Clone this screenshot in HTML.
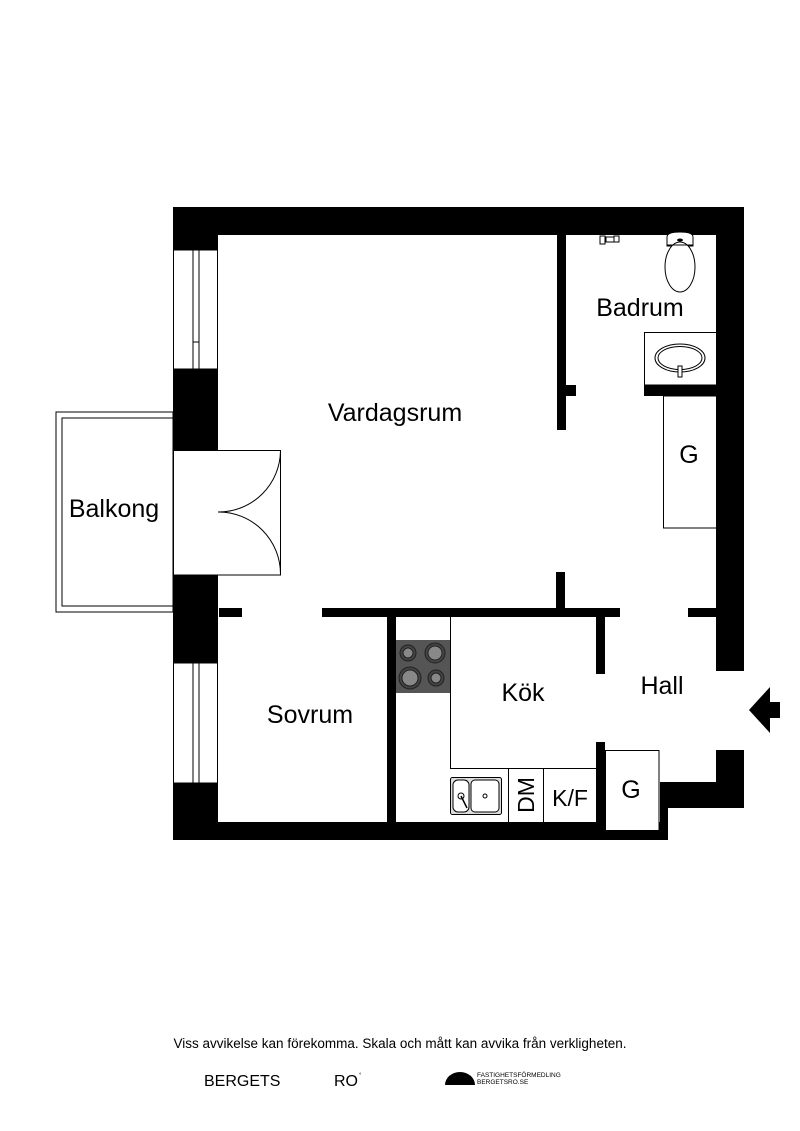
<!DOCTYPE html>
<html><head><meta charset="utf-8"><style>
html,body{margin:0;padding:0;background:#fff;}
svg{display:block;}
text{font-family:"Liberation Sans",Arial,sans-serif;fill:#000;}
</style></head><body>
<svg width="800" height="1131" viewBox="0 0 800 1131" xmlns="http://www.w3.org/2000/svg">
<rect x="56" y="412" width="117" height="200" fill="none" stroke="#000" stroke-width="1"/>
<rect x="62" y="418" width="111" height="188" fill="none" stroke="#000" stroke-width="1"/>
<g fill="#000">
<rect x="173" y="207" width="571" height="28"/>
<rect x="173" y="207" width="45" height="43"/>
<rect x="173" y="369" width="45" height="81"/>
<rect x="173" y="575" width="45" height="88"/>
<rect x="173" y="783" width="45" height="57"/>
<rect x="173" y="822" width="495" height="18"/>
<rect x="716" y="207" width="28" height="464"/>
<rect x="716" y="750" width="28" height="58"/>
<rect x="660" y="782" width="84" height="26"/>
<rect x="660" y="782" width="8" height="58"/>
<rect x="219" y="608" width="23" height="9"/>
<rect x="322" y="608" width="298" height="9"/>
<rect x="556" y="572" width="9" height="40"/>
<rect x="387" y="612" width="9" height="212"/>
<rect x="596" y="612" width="9" height="62"/>
<rect x="596" y="742" width="9" height="82"/>
<rect x="688" y="608" width="30" height="9"/>
<rect x="557" y="235" width="9" height="195"/>
<rect x="557" y="385" width="19" height="11"/>
<rect x="644" y="385" width="73" height="11"/>
</g>
<g fill="#fff" stroke="#000" stroke-width="1">
<rect x="173.5" y="250" width="44" height="119"/>
<rect x="193" y="250" width="6" height="119"/>
<rect x="173.5" y="663" width="44" height="120"/>
<rect x="193" y="663" width="6" height="120"/>
</g>
<line x1="193" y1="342" x2="199" y2="342" stroke="#000"/>
<rect x="173.5" y="450.5" width="107" height="124.5" fill="#fff" stroke="#000" stroke-width="1"/>
<rect x="218" y="451" width="62" height="124" fill="#fff"/>
<line x1="218" y1="450.5" x2="281" y2="450.5" stroke="#000"/>
<line x1="218" y1="575" x2="281" y2="575" stroke="#000"/>
<path d="M280.5 451 A62 62 0 0 1 218 512 A62 62 0 0 1 280.5 574" fill="none" stroke="#000" stroke-width="1"/>
<rect x="644.5" y="332.5" width="72" height="52.5" fill="#fff" stroke="#000"/>
<ellipse cx="680" cy="358" rx="25" ry="14" fill="none" stroke="#000"/>
<ellipse cx="680" cy="358" rx="22" ry="11.5" fill="none" stroke="#000"/>
<rect x="678" y="366" width="4" height="11" fill="#fff" stroke="#000"/>
<rect x="663.5" y="396" width="53" height="132" fill="#fff" stroke="#000"/>
<path d="M667 237 Q667 232 680 232 Q693 232 693 237 L693 246 L667 246 Z" fill="#fff" stroke="#000"/>
<ellipse cx="680" cy="267" rx="15" ry="25" fill="#fff" stroke="#000"/>
<path d="M667 245 L693 245" stroke="#000"/>
<ellipse cx="680" cy="240" rx="3" ry="1.5" fill="#000"/>
<g fill="none" stroke="#000" stroke-width="1"><rect x="600" y="236" width="5" height="8"/><rect x="606" y="237" width="8" height="5"/><rect x="614" y="236" width="5" height="6"/></g>
<line x1="450.5" y1="617" x2="450.5" y2="768" stroke="#000"/>
<line x1="450" y1="768.5" x2="597" y2="768.5" stroke="#000"/>
<line x1="508.5" y1="768" x2="508.5" y2="822" stroke="#000"/>
<line x1="543.5" y1="768" x2="543.5" y2="822" stroke="#000"/>
<rect x="396" y="640" width="54" height="53" fill="#555"/>
<g stroke="#222" stroke-width="1">
<circle cx="408" cy="653" r="8" fill="#444"/><circle cx="408" cy="653" r="5" fill="#888"/>
<circle cx="435" cy="653" r="10" fill="#444"/><circle cx="435" cy="653" r="7" fill="#888"/>
<circle cx="410" cy="678" r="11" fill="#444"/><circle cx="410" cy="678" r="8" fill="#888"/>
<circle cx="436" cy="678" r="8" fill="#444"/><circle cx="436" cy="678" r="5" fill="#888"/>
</g>
<rect x="450.5" y="777.5" width="51" height="37" rx="2" fill="#ddd" stroke="#000"/>
<rect x="453" y="780" width="16" height="32" rx="5" fill="#fff" stroke="#000"/>
<rect x="471" y="780" width="28" height="32" rx="4" fill="#fff" stroke="#000"/>
<circle cx="461" cy="796" r="3" fill="none" stroke="#000"/>
<circle cx="485" cy="796" r="2" fill="none" stroke="#000"/>
<line x1="461" y1="796" x2="467" y2="808" stroke="#000" stroke-width="1.5"/>
<rect x="605.5" y="750.5" width="53.5" height="80" fill="#fff" stroke="#000"/>
<path d="M749 710 L770 687 L770 702 L780 702 L780 718 L770 718 L770 733 Z" fill="#000"/>
<g font-size="25">
<text x="395" y="421" text-anchor="middle">Vardagsrum</text>
<text x="640" y="316" text-anchor="middle">Badrum</text>
<text x="114" y="517" text-anchor="middle">Balkong</text>
<text x="310" y="723" text-anchor="middle">Sovrum</text>
<text x="523" y="701" text-anchor="middle">Kök</text>
<text x="662" y="694" text-anchor="middle">Hall</text>
<text x="689" y="463" text-anchor="middle">G</text>
<text x="631" y="798" text-anchor="middle">G</text>
<text x="570" y="806" text-anchor="middle" font-size="23">K/F</text>
<text x="0" y="0" text-anchor="middle" font-size="23" transform="translate(534,795) rotate(-90)">DM</text>
</g>
<text x="400" y="1048" font-size="13.5" text-anchor="middle">Viss avvikelse kan förekomma. Skala och mått kan avvika från verkligheten.</text>
<text x="204" y="1086" font-size="16">BERGETS</text>
<text x="334" y="1086" font-size="16">RO</text>
<text x="359" y="1077" font-size="6">°</text>
<path d="M445 1085 A15 13 0 0 1 475 1085 Z" fill="#000"/>
<text x="477" y="1077" font-size="6.5">FASTIGHETSFÖRMEDLING</text>
<text x="477" y="1084" font-size="6.5">BERGETSRO.SE</text>
</svg>
</body></html>
